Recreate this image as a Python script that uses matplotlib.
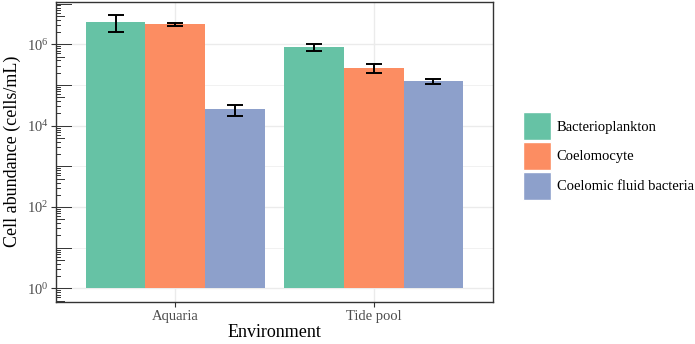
import numpy as np
import matplotlib
matplotlib.use("Agg")
import matplotlib.pyplot as plt
from matplotlib.patches import Patch
from matplotlib.ticker import LogFormatterMathtext, FixedLocator, NullFormatter

plt.rcParams['font.family'] = ['Liberation Serif', 'DejaVu Serif']
plt.rcParams['mathtext.fontset'] = 'custom'
plt.rcParams['mathtext.rm'] = 'Liberation Serif'
plt.rcParams['mathtext.it'] = 'Liberation Serif:italic'

# data (cells/mL), mean and sd
environments = ['Aquaria', 'Tide pool']
cell_types = ['Bacterioplankton', 'Coelomocyte', 'Coelomic fluid bacteria']
colors = ['#66C2A5', '#FC8D62', '#8DA0CB']
bact_mean = [3.6e6, 8.6e5]
bact_sd = [1.6e6, 1.6e5]
coelo_mean = [3.1e6, 2.65e5]
coelo_sd = [0.3e6, 0.68e5]
cfb_mean = [2.5e4, 1.23e5]
cfb_sd = [0.8e4, 0.2e5]

means = [bact_mean, coelo_mean, cfb_mean]
sds = [bact_sd, coelo_sd, cfb_sd]

fig = plt.figure(figsize=(6.95, 3.44), dpi=100)
ax = fig.add_axes([0.0806, 0.1221, 0.6288, 0.8735])

x = np.arange(1, len(environments) + 1)
bar_w = 0.3
for i, name in enumerate(cell_types):
    pos = x + (i - 1) * bar_w
    m = np.array(means[i])
    s = np.array(sds[i])
    ax.bar(pos, m, width=bar_w, bottom=1, color=colors[i], zorder=2)
    ax.errorbar(pos, m, yerr=s, fmt='none', ecolor='black', elinewidth=1.4,
                capsize=5.8, capthick=1.4, zorder=3)

ax.set_yscale('log')
# ggplot-like 5% expansion in log space
hi = np.log10(max(np.max(np.array(means[i]) + np.array(sds[i])) for i in range(3)))
pad = 0.05 * hi
ax.set_ylim(10 ** (-pad), 10 ** (hi + pad))
ax.set_xlim(0.4, 2.6)

ax.yaxis.set_major_locator(FixedLocator([1, 1e2, 1e4, 1e6]))
ax.yaxis.set_major_formatter(LogFormatterMathtext())
ax.yaxis.set_minor_locator(FixedLocator([1e1, 1e3, 1e5]))
ax.yaxis.set_minor_formatter(NullFormatter())
ax.set_xticks(x)
ax.set_xticklabels(environments)

ax.grid(True, which='major', color='#EBEBEB', linewidth=1.0, zorder=0)
ax.grid(True, which='minor', axis='y', color='#EBEBEB', linewidth=0.5, zorder=0)
ax.set_axisbelow(True)

ax.tick_params(axis='both', which='major', length=3.5, width=0.8, color='#333333',
               labelcolor='#4D4D4D', labelsize=10.5, pad=2)
ax.tick_params(axis='y', which='minor', length=0)
for sp in ax.spines.values():
    sp.set_color('#333333')
    sp.set_linewidth(1.0)
    sp.set_zorder(4)

# log ticks drawn inside the left edge
ax_w_px = 0.6288 * 695
lo_lim, hi_lim = ax.get_ylim()
for e in range(-1, 8):
    for k in range(1, 10):
        v = k * 10.0 ** e
        if v < lo_lim or v > hi_lim:
            continue
        if k == 1:
            ln = 14.5
        elif k == 5:
            ln = 7.5
        else:
            ln = 4
        ax.axhline(v, xmin=0, xmax=ln / ax_w_px, color='#333333', linewidth=0.7, zorder=4)

ax.set_xlabel('Environment', fontsize=13, labelpad=1)
ax.set_ylabel('Cell abundance (cells/mL)', fontsize=13, labelpad=4)

handles = [Patch(facecolor=c, edgecolor='white', linewidth=1) for c in colors]
fig.legend(handles, cell_types, loc='center left', bbox_to_anchor=(523 / 695, 1 - 156 / 344),
           frameon=False, fontsize=10.5, borderpad=0, borderaxespad=0,
           handlelength=1.95, handleheight=2.6, labelspacing=0.1, handletextpad=0.35)

fig.savefig('out.png', dpi=100)
